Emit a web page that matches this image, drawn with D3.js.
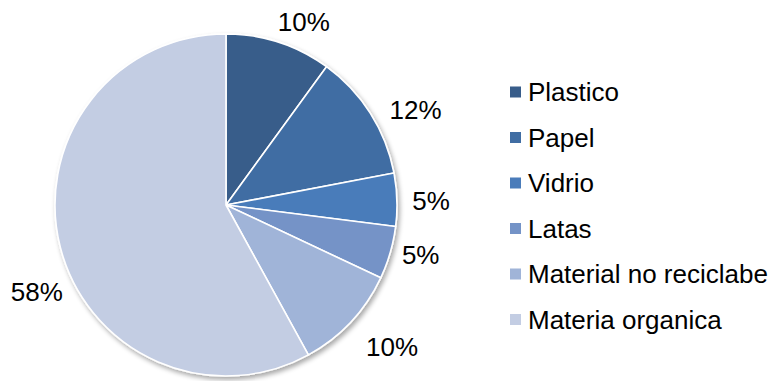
<!DOCTYPE html>
<html>
<head>
<meta charset="utf-8">
<script src="https://cdn.jsdelivr.net/npm/d3@7"></script>
<style>
  html, body { margin: 0; padding: 0; background: #fff; }
  svg { display: block; font-family: "Liberation Sans", Arial, sans-serif; }
</style>
</head>
<body>
<svg id="chart" width="775" height="381"></svg>
<script>
// Composition of household waste (percent)
const categories = ["Plastico", "Papel", "Vidrio", "Latas", "Material no reciclabe", "Materia organica"];
const values = [10, 12, 5, 5, 10, 58];
const colors = ["#385D8A", "#406DA3", "#4A7CBA", "#7493C7", "#A0B4D8", "#C3CDE3"];

// Label placement tweaks (degrees along the arc, distance from centre)
const labelAngleShift = [5, 5.8, 0.7, -1.8, -2.8, -10.2];
const labelRadius = [199, 212, 205, 201, 218, 208];

const svg = d3.select("#chart");
const cx = 226, cy = 205, r = 171;
const fontSize = 26;

const defs = svg.append("defs");
const shadow = defs.append("filter").attr("id", "shadow")
  .attr("x", "-10%").attr("y", "-10%").attr("width", "130%").attr("height", "130%");
shadow.append("feGaussianBlur").attr("in", "SourceAlpha").attr("stdDeviation", 2.5);
shadow.append("feOffset").attr("dx", 2).attr("dy", 3).attr("result", "b");
shadow.append("feComponentTransfer").append("feFuncA").attr("type", "linear").attr("slope", 0.35);
const merge = shadow.append("feMerge");
merge.append("feMergeNode");
merge.append("feMergeNode").attr("in", "SourceGraphic");

const data = categories.map((c, i) => ({ name: c, value: values[i], color: colors[i] }));
const pie = d3.pie().value(d => d.value).sort(null);
const arcs = pie(data);
const arc = d3.arc().innerRadius(0).outerRadius(r);

const g = svg.append("g").attr("transform", `translate(${cx},${cy})`);

g.append("g").attr("filter", "url(#shadow)")
  .selectAll("path")
  .data(arcs)
  .join("path")
  .attr("d", arc)
  .attr("fill", d => d.data.color)
  .attr("stroke", "#fff")
  .attr("stroke-width", 1.6)
  .attr("stroke-linejoin", "round");

// Percentage labels outside the pie
g.selectAll("text.pct")
  .data(arcs)
  .join("text")
  .attr("class", "pct")
  .attr("x", (d, i) => {
    const a = (d.startAngle + d.endAngle) / 2 + labelAngleShift[i] * Math.PI / 180;
    return Math.sin(a) * labelRadius[i];
  })
  .attr("y", (d, i) => {
    const a = (d.startAngle + d.endAngle) / 2 + labelAngleShift[i] * Math.PI / 180;
    return -Math.cos(a) * labelRadius[i];
  })
  .attr("dy", "0.36em")
  .attr("text-anchor", "middle")
  .attr("font-size", fontSize)
  .attr("fill", "#000")
  .text(d => d.data.value + "%");

// Legend
const legendY = d3.scalePoint().domain(categories).range([92, 319.5]);
const legend = svg.append("g");
const rows = legend.selectAll("g").data(data).join("g")
  .attr("transform", d => `translate(510,${legendY(d.name)})`);
rows.append("rect")
  .attr("x", 0).attr("y", -5.5)
  .attr("width", 11).attr("height", 11)
  .attr("fill", d => d.color);
rows.append("text")
  .attr("x", 18).attr("y", 9)
  .attr("font-size", fontSize)
  .attr("fill", "#000")
  .text(d => d.name);
</script>
</body>
</html>
